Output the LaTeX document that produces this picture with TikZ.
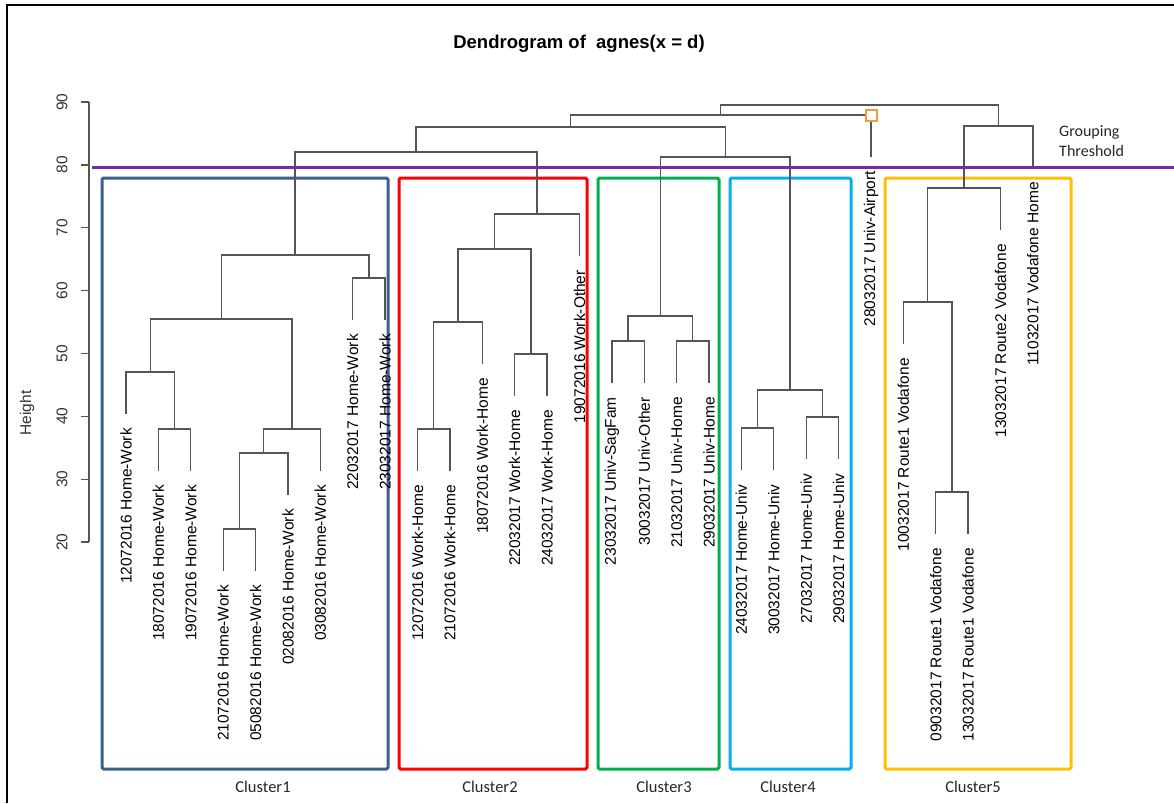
\documentclass[tikz,border=0pt]{standalone}
\usepackage{fontspec}
\setmainfont{Liberation Sans}
\newfontfamily\calib{Carlito}
\definecolor{dgray}{RGB}{85,85,85}
\definecolor{thrpurple}{RGB}{112,48,160}
\definecolor{cblue}{RGB}{62,95,140}
\definecolor{cred}{RGB}{255,0,0}
\definecolor{cgreen}{RGB}{0,176,80}
\definecolor{clblue}{RGB}{0,176,240}
\definecolor{corange}{RGB}{255,192,0}
\definecolor{sqorange}{RGB}{247,150,70}
\begin{document}
\begin{tikzpicture}[x=1pt,y=-1pt,
  dend/.style={draw=dgray, line width=1.3pt},
  leaf/.style={rotate=90, anchor=east, inner sep=0pt, font=\fontsize{15.5}{16}\selectfont},
  ticklab/.style={rotate=90, inner sep=0pt, text=dgray!60!black, font=\fontsize{15.5}{16}\selectfont},
  clbox/.style={draw=#1, line width=3pt, rounded corners=1.5pt, minimum width=#1, inner sep=0pt},
  cbox/.style={line width=3pt, rounded corners=1.5pt},
  cllab/.style={font=\calib\fontsize{16.5}{18}\selectfont, text=black!85},
]
\useasboundingbox (0,0) rectangle (1174,803);
\fill[white] (0,0) rectangle (1174,803);
% frame
\coordinate (frBL) at (7,803);
\coordinate (frTL) at (7,5);
\coordinate (frTR) at (1174,5);
\draw[line width=2pt] (frBL) -- (frTL) -- (frTR);
% title
\node[font=\bfseries\fontsize{18.5}{20}\selectfont] (title) at (579,44) {Dendrogram of~~agnes(x = d)};
% axis
\coordinate (axT) at (89,102);
\coordinate (axB) at (89,542);
\draw[dend] (axT) -- (axB);
\foreach \h in {20,30,...,90}{
  \coordinate (tk\h) at (89,{542-(\h-20)*6.2857});
  \coordinate (tke\h) at (81,{542-(\h-20)*6.2857});
  \draw[dend] (tk\h) -- (tke\h);
  \node[ticklab] (tl\h) at (62,{542-(\h-20)*6.2857}) {\h};
}
\node[ticklab] (ylab) at (27,413) {Height};
% cluster boxes
\coordinate (b1a) at (102,178); \coordinate (b1b) at (388,769);
\coordinate (b2a) at (399,178); \coordinate (b2b) at (587,769);
\coordinate (b3a) at (598,178); \coordinate (b3b) at (719,769);
\coordinate (b4a) at (730,178); \coordinate (b4b) at (851,769);
\coordinate (b5a) at (885,178); \coordinate (b5b) at (1071,769);
\draw[cbox, draw=cblue] (b1a) rectangle (b1b);
\draw[cbox, draw=cred] (b2a) rectangle (b2b);
\draw[cbox, draw=cgreen] (b3a) rectangle (b3b);
\draw[cbox, draw=clblue] (b4a) rectangle (b4b);
\draw[cbox, draw=corange] (b5a) rectangle (b5b);
\node[cllab] (cl1) at (263,787) {Cluster1};
\node[cllab] (cl2) at (490,787) {Cluster2};
\node[cllab] (cl3) at (664,787) {Cluster3};
\node[cllab] (cl4) at (788,787) {Cluster4};
\node[cllab] (cl5) at (973,787) {Cluster5};
% leaves
\foreach \i/\x/\y/\t in {
  0/126.0/414/12072016 Home-Work,
  1/158.4/471/18072016 Home-Work,
  2/190.8/471/19072016 Home-Work,
  3/223.2/571/21072016 Home-Work,
  4/255.6/571/05082016 Home-Work,
  5/288.0/495/02082016 Home-Work,
  6/320.3/471/03082016 Home-Work,
  7/352.7/320/22032017 Home-Work,
  8/385.1/320/23032017 Home-Work,
  9/417.5/471/12072016 Work-Home,
  10/449.9/471/21072016 Work-Home,
  11/482.3/364/18072016 Work-Home,
  12/514.7/396/22032017 Work-Home,
  13/547.1/396/24032017 Work-Home,
  14/579.5/256/19072016 Work-Other,
  15/611.9/383/23032017 Univ-SagFam,
  16/644.2/383/30032017 Univ-Other,
  17/676.6/383/21032017 Univ-Home,
  18/709.0/383/29032017 Univ-Home,
  19/741.4/470/24032017 Home-Univ,
  20/773.8/470/30032017 Home-Univ,
  21/806.2/459/27032017 Home-Univ,
  22/838.6/459/29032017 Home-Univ,
  23/871.0/157/28032017 Univ-Airport,
  24/903.4/344/10032017 Route1 Vodafone,
  25/935.8/534/09032017 Route1 Vodafone,
  26/968.1/534/13032017 Route1 Vodafone,
  27/1000.5/230/13032017 Route2 Vodafone,
  28/1032.9/168/11032017 Vodafone Home}{
  \coordinate (L\i) at (\x,\y);
  \node[leaf] (lab\i) at (\x,{\y+14}) {\t};
}
% merge points
\coordinate (A1) at (239.4,529);
\coordinate (A2) at (263.7,453);
\coordinate (A3) at (292.0,429);
\coordinate (A4) at (174.6,429);
\coordinate (A5) at (150.3,372);
\coordinate (A6) at (221.2,319);
\coordinate (A7) at (368.9,278);
\coordinate (A8) at (295.0,255);
\coordinate (B1) at (433.7,429);
\coordinate (B2) at (458.0,322);
\coordinate (B3) at (530.9,354);
\coordinate (B4) at (494.5,249);
\coordinate (B5) at (537.0,214);
\coordinate (C1) at (416.0,152);
\coordinate (D1) at (628.0,341);
\coordinate (D2) at (692.8,341);
\coordinate (D3) at (660.4,316);
\coordinate (E1) at (757.6,428);
\coordinate (E2) at (822.4,417);
\coordinate (E3) at (790.0,390);
\coordinate (F1) at (725.2,157);
\coordinate (G1) at (570.6,127);
\coordinate (G2) at (720.8,115);
\coordinate (H1) at (952.0,492);
\coordinate (H2) at (927.7,302);
\coordinate (H3) at (964.1,188);
\coordinate (H4) at (998.5,126);
\coordinate (R) at (859.6,105);
% connectors
\draw[dend] (L3) |- (A1) -| (L4);
\draw[dend] (A1) |- (A2) -| (L5);
\draw[dend] (A2) |- (A3) -| (L6);
\draw[dend] (L1) |- (A4) -| (L2);
\draw[dend] (L0) |- (A5) -| (A4);
\draw[dend] (A5) |- (A6) -| (A3);
\draw[dend] (L7) |- (A7) -| (L8);
\draw[dend] (A6) |- (A8) -| (A7);
\draw[dend] (L9) |- (B1) -| (L10);
\draw[dend] (B1) |- (B2) -| (L11);
\draw[dend] (L12) |- (B3) -| (L13);
\draw[dend] (B2) |- (B4) -| (B3);
\draw[dend] (B4) |- (B5) -| (L14);
\draw[dend] (A8) |- (C1) -| (B5);
\draw[dend] (L15) |- (D1) -| (L16);
\draw[dend] (L17) |- (D2) -| (L18);
\draw[dend] (D1) |- (D3) -| (D2);
\draw[dend] (L19) |- (E1) -| (L20);
\draw[dend] (L21) |- (E2) -| (L22);
\draw[dend] (E1) |- (E3) -| (E2);
\draw[dend] (D3) |- (F1) -| (E3);
\draw[dend] (C1) |- (G1) -| (F1);
\draw[dend] (G1) |- (G2) -| (L23);
\draw[dend] (L25) |- (H1) -| (L26);
\draw[dend] (L24) |- (H2) -| (H1);
\draw[dend] (H2) |- (H3) -| (L27);
\draw[dend] (H3) |- (H4) -| (L28);
\draw[dend] (G2) |- (R) -| (H4);
% highlighted point
\node[draw=sqorange, fill=white, line width=2pt, minimum size=11pt, inner sep=0pt] (sq) at (871,115) {};
% threshold
\coordinate (thrL) at (92,167);
\coordinate (thrR) at (1174,167);
\draw[draw=thrpurple, line width=3pt] (thrL) -- (thrR);
\node[anchor=west, align=left, inner sep=0pt, font=\calib\fontsize{16}{20}\selectfont, text=black!85] (gt) at (1059,141) {Grouping\\Threshold};
\end{tikzpicture}
\end{document}
